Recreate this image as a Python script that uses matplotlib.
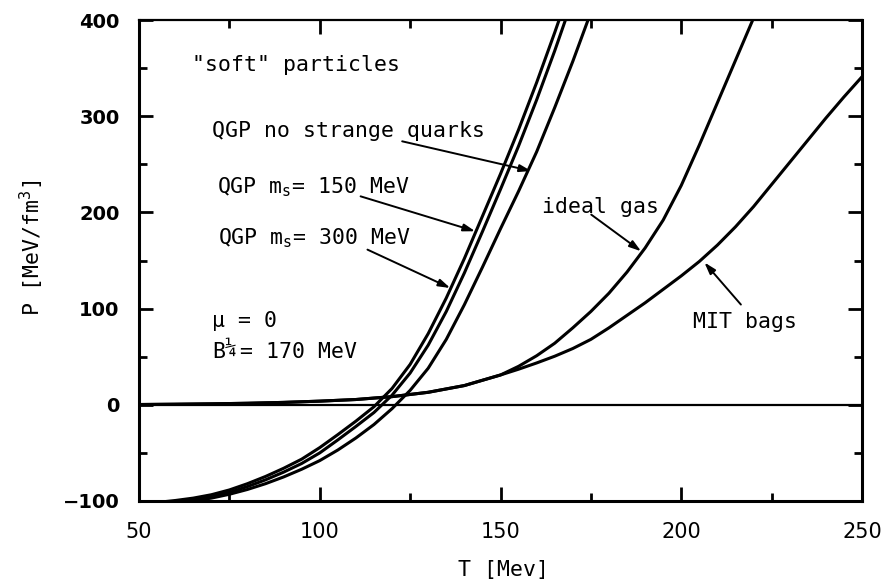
import matplotlib
matplotlib.use("Agg")
import matplotlib.pyplot as plt
from matplotlib import font_manager
from matplotlib.ticker import MultipleLocator

# temperature grid for the QGP curves [MeV]
T_qgp = [50, 55, 60, 65, 70, 75, 80, 85, 90, 95, 100, 105, 110, 115, 120,
         125, 130, 135, 140, 145, 150, 155, 160, 165, 170, 175]
# pressure [MeV/fm^3]
P_ms150 = [-104, -101.5, -99.5, -97, -93.5, -88.5, -82, -74.5, -66, -56.5, -44.5,
           -31, -17, -2, 17, 42, 74, 111, 152, 196, 240, 286, 335, 387, 441, 495]
P_ms300 = [-105, -102, -100.5, -98, -95.5, -91, -85, -78, -70, -61, -50,
           -36.5, -22.5, -8, 10, 33, 62, 97, 137, 180, 224, 269, 317, 368, 422, 476]
P_nostrange = [-106, -104, -102, -100, -97, -93, -88, -82, -75, -67, -58,
               -47, -34.5, -20.5, -4, 15, 38, 68, 104, 143, 183, 222, 263, 309, 357, 408]

# hadronic side: common low-T part, then ideal gas and MIT bags split
T_had = [50, 60, 70, 80, 90, 100, 110, 120, 130, 140, 150]
P_had = [0.3, 0.6, 1.0, 1.6, 2.5, 3.8, 5.5, 8.5, 13, 20, 31]
T_ideal = [155, 160, 165, 170, 175, 180, 185, 190, 195, 200, 205, 210, 215, 220]
P_ideal = [40, 51, 64, 80, 97, 116, 138, 163, 192, 228, 270, 314, 358, 402]
T_mit = [155, 160, 165, 170, 175, 180, 185, 190, 195, 200, 205, 210, 215, 220,
         225, 230, 235, 240, 245, 250]
P_mit = [37, 43.5, 50.5, 58.5, 68, 80, 93, 106, 120, 134, 149, 166, 185, 206,
         229, 252, 275, 298, 320, 341]

x_ticks = [50, 100, 150, 200, 250]
y_ticks = [-100, 0, 100, 200, 300, 400]

installed = {f.name for f in font_manager.fontManager.ttflist}
narrow = "Liberation Sans Narrow" if "Liberation Sans Narrow" in installed else "DejaVu Sans"
mono = "DejaVu Sans Mono"

plt.rcParams["mathtext.fontset"] = "custom"
plt.rcParams["mathtext.rm"] = mono
plt.rcParams["mathtext.it"] = mono
plt.rcParams["mathtext.bf"] = mono + ":bold"

fig = plt.figure(figsize=(8.84, 5.83), dpi=100)
ax = fig.add_axes([139 / 884, 1 - 501 / 583, (862 - 139) / 884, (501 - 20) / 583])

lw = 2.2
ax.plot(T_qgp, P_ms150, "k-", lw=lw)
ax.plot(T_qgp, P_ms300, "k-", lw=lw)
ax.plot(T_qgp, P_nostrange, "k-", lw=lw)
ax.plot(T_had + T_ideal, P_had + P_ideal, "k-", lw=lw)
ax.plot(T_had + T_mit, P_had + P_mit, "k-", lw=lw)
ax.axhline(0, color="k", lw=1.6)

ax.set_xlim(50, 250)
ax.set_ylim(-100, 400)
ax.set_xticks(x_ticks)
ax.set_yticks(y_ticks)
ax.xaxis.set_minor_locator(MultipleLocator(25))
ax.yaxis.set_minor_locator(MultipleLocator(50))
ax.tick_params(which="both", direction="in", top=True, right=True, width=2)
ax.tick_params(which="major", length=10)
ax.tick_params(which="minor", length=6)
ax.tick_params(axis="x", pad=15)
ax.tick_params(axis="y", pad=14)
ax.set_xticklabels([str(v) for v in x_ticks], fontsize=15, family=narrow)
ax.set_yticklabels([str(v).replace("-", "\u2212") for v in y_ticks],
                   fontsize=14, fontweight="bold", family="DejaVu Sans")
for side in ["left", "bottom", "right"]:
    ax.spines[side].set_linewidth(2.2)
ax.spines["top"].set_linewidth(1.6)

fig.text(32 / 884, 1 - 248 / 583, r"P [MeV/fm$^3$]", rotation=90,
         ha="center", va="center", fontsize=15.5, family=mono)
fig.text(503 / 884, 1 - 570 / 583, "T [Mev]", ha="center", va="center",
         fontsize=15.5, family=mono)

fs = 15.5
txt = dict(fontsize=fs, family=mono, va="baseline", ha="left")
ax.text(64.6, 346.6, '"soft" particles', **txt)
ax.text(70.1, 278, "QGP no strange quarks", **txt)
ax.text(71.5, 220.2, r"QGP m$_{\mathrm{s}}$= 150 MeV", **txt)
ax.text(71.9, 166.8, r"QGP m$_{\mathrm{s}}$= 300 MeV", **txt)
ax.text(161.4, 199.4, "ideal gas", **txt)
ax.text(203.3, 79.8, "MIT bags", **txt)
ax.text(70.2, 80.6, "\u03bc = 0", **txt)

# B^(1/4) written piecewise so the exponent stays legible
ax.text(70.2, 48.6, "B", **txt)
ax.annotate("\u00bc", xy=(70.2, 48.6), xytext=(9.0, 4), textcoords="offset points",
            fontsize=14, family=mono, va="baseline", ha="left")
ax.annotate("= 170 MeV", xy=(70.2, 48.6), xytext=(20, 0), textcoords="offset points",
            fontsize=fs, family=mono, va="baseline", ha="left")

arrow = dict(arrowstyle="-|>,head_length=0.7,head_width=0.22", color="k",
             lw=1.4, shrinkA=0, shrinkB=0)
ax.annotate("", xy=(158.5, 243), xytext=(122.8, 273.9), arrowprops=arrow)
ax.annotate("", xy=(143.0, 180.4), xytext=(111.3, 216.7), arrowprops=arrow)
ax.annotate("", xy=(136.1, 121.4), xytext=(113.2, 161.3), arrowprops=arrow)
ax.annotate("", xy=(188.9, 159.6), xytext=(175.1, 197.7), arrowprops=arrow)
ax.annotate("", xy=(206.4, 148), xytext=(216.5, 104.2), arrowprops=arrow)

fig.savefig("out.png", dpi=100)
